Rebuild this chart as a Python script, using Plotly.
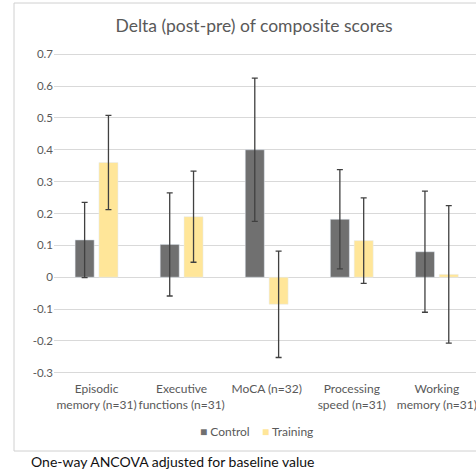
import plotly.graph_objects as go

categories = ["Episodic<br>memory (n=31)", "Executive<br>functions (n=31)", "MoCA (n=32)",
              "Processing<br>speed (n=31)", "Working<br>memory (n=31)"]
control = [0.117, 0.103, 0.400, 0.182, 0.080]
control_err = [0.118, 0.162, 0.225, 0.156, 0.190]
training = [0.360, 0.190, -0.085, 0.115, 0.009]
training_err = [0.148, 0.143, 0.167, 0.134, 0.216]
y_ticks = [-0.3, -0.2, -0.1, 0, 0.1, 0.2, 0.3, 0.4, 0.5, 0.6, 0.7]

CONTROL_COLOR = "#707070"
TRAINING_COLOR = "#FFE699"
TEXT_COLOR = "#595959"

W, H = 476, 469
ML, MR, MT, MB = 54, 0, 51, 93
pw, ph = W - ML - MR, H - MT - MB

def px(x):
    return (x - ML) / pw

def py(y):
    return (H - MB - y) / ph

xs = list(range(len(categories)))
err_style = dict(type="data", visible=True, color="#404040", thickness=1.3, width=3)

fig = go.Figure()
fig.add_trace(go.Bar(name="Control", x=xs, y=control, marker_color=CONTROL_COLOR,
                     error_y=dict(array=control_err, **err_style), showlegend=False))
fig.add_trace(go.Bar(name="Training", x=xs, y=training, marker_color=TRAINING_COLOR,
                     error_y=dict(array=training_err, **err_style), showlegend=False))

fig.update_layout(
    width=W, height=H,
    margin=dict(l=ML, r=MR, t=MT, b=MB),
    paper_bgcolor="white", plot_bgcolor="white",
    barmode="group", bargap=0.44, bargroupgap=0.2,
    font=dict(family="Lato, Open Sans, sans-serif", color=TEXT_COLOR, size=12),
    title=dict(text="Delta (post-pre) of composite scores", x=254 / W, xref="container",
               xanchor="center", y=1 - 26 / H, yref="container", yanchor="middle",
               font=dict(size=17.5, color=TEXT_COLOR)),
    xaxis=dict(tickmode="array", tickvals=xs, ticktext=categories, range=[-0.5, 4.46],
               showgrid=False, zeroline=False, showline=False, ticks="", tickangle=0,
               automargin=False, ticklabelstandoff=4, ticklabeloverflow="allow",
               tickfont=dict(size=12, color=TEXT_COLOR)),
    yaxis=dict(range=[-0.31, 0.71], tickvals=y_ticks, ticktext=[f"{v:g}" for v in y_ticks],
               showgrid=True, gridcolor="#d9d9d9", gridwidth=1,
               zeroline=True, zerolinecolor="#d9d9d9", zerolinewidth=1, automargin=False,
               showline=False, ticks="", tickfont=dict(size=11.5, color=TEXT_COLOR)),
    showlegend=False,
)

# legend drawn as a compact key row
legend_text = (f"<span style='color:{CONTROL_COLOR}'>■</span>&nbsp;Control"
               f"&nbsp;&nbsp;&nbsp;&nbsp;<span style='color:{TRAINING_COLOR}'>■</span>&nbsp;Training")
fig.add_annotation(text=legend_text, xref="paper", yref="paper",
                   x=px(256), xanchor="center", y=py(431), yanchor="middle", showarrow=False,
                   font=dict(size=12, color=TEXT_COLOR))

# outer chart frame
fig.add_shape(type="rect", xref="paper", yref="paper",
              x0=px(14), x1=px(W + 5), y0=py(451), y1=py(3),
              line=dict(color="#d0d0d0", width=1), fillcolor="rgba(0,0,0,0)", layer="below")

fig.add_annotation(text="One-way ANCOVA adjusted for baseline value", xref="paper", yref="paper",
                   x=px(29), xanchor="left", y=py(461), yanchor="middle", showarrow=False,
                   font=dict(size=14, color="#111111"))

fig.write_html("out.html")
